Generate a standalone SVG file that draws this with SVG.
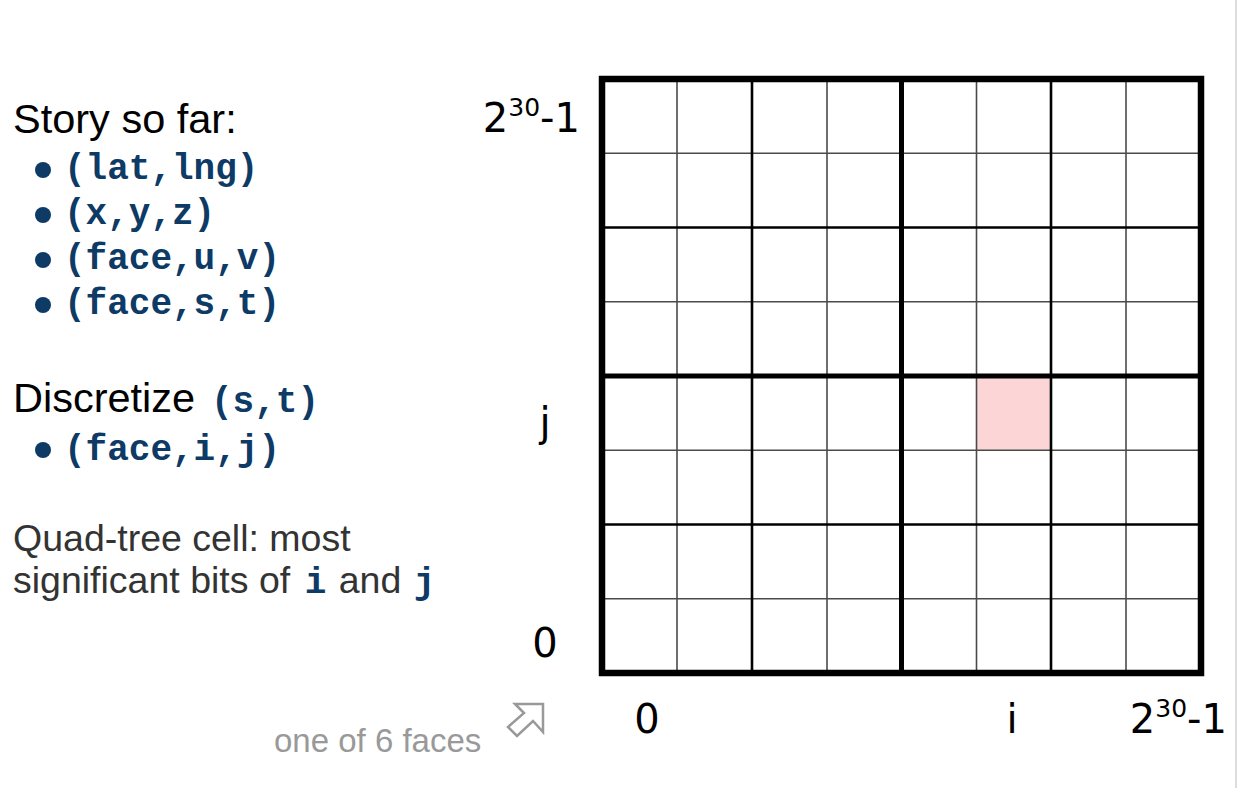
<svg xmlns="http://www.w3.org/2000/svg" width="1238" height="788" viewBox="0 0 1238 788">
<style>
.h{font-family:"Liberation Sans",Arial,sans-serif;fill:#000;}
.q{font-family:"Liberation Sans",Arial,sans-serif;fill:#333;font-size:37.5px;}
.m{font-family:"Liberation Mono","Courier New",monospace;font-weight:bold;fill:#0e3a66;font-size:36px;}
.ax{font-family:"DejaVu Sans",Verdana,sans-serif;fill:#000;font-size:40px;}
.sup{font-size:25px;}
.dot{fill:#0e3a66;}
.l3{stroke:#4a4a4a;stroke-width:1.6;}
.l2{stroke:#000;stroke-width:2.6;}
.l1{stroke:#000;stroke-width:5;}
</style>
<rect width="1238" height="788" fill="#fff"/>
<line x1="1236" y1="0" x2="1236" y2="788" stroke="#ddd" stroke-width="2"/>
<g id="story">
<text class="h" x="13" y="133" font-size="41.5">Story so far:</text>
<circle class="dot" cx="43" cy="170" r="8"/>
<text class="m" x="64" y="179">(lat,lng)</text>
<circle class="dot" cx="43" cy="215" r="8"/>
<text class="m" x="64" y="224">(x,y,z)</text>
<circle class="dot" cx="43" cy="260" r="8"/>
<text class="m" x="64" y="269">(face,u,v)</text>
<circle class="dot" cx="43" cy="305" r="8"/>
<text class="m" x="64" y="314">(face,s,t)</text>
</g>
<g id="discretize">
<text class="h" x="13" y="412" font-size="41.5">Discretize</text>
<text class="m" x="211" y="412">(s,t)</text>
<circle class="dot" cx="43" cy="450" r="8"/>
<text class="m" x="64" y="460">(face,i,j)</text>
</g>
<g id="quadtree">
<text class="q" x="13" y="551">Quad-tree cell: most</text>
<text class="q" x="13" y="593">significant bits of <tspan class="m" dx="4">i</tspan> <tspan dx="2">and</tspan> <tspan class="m" dx="2">j</tspan></text>
</g>
<g id="caption">
<text x="274" y="752" font-family="Liberation Sans,Arial,sans-serif" font-size="33" fill="#999">one of 6 faces</text>
<path d="M543 704 L515 704 L524 713 L508 727 L517 736 L533 721 L543 732 Z" fill="none" stroke="#999" stroke-width="2.5" stroke-linejoin="miter"/>
</g>
<g id="grid">
<rect x="977" y="376" width="74" height="74" fill="#fcd5d6"/>
<g class="l3">
<line x1="677" y1="79" x2="677" y2="673"/>
<line x1="827" y1="79" x2="827" y2="673"/>
<line x1="976.5" y1="79" x2="976.5" y2="673"/>
<line x1="1126" y1="79" x2="1126" y2="673"/>
<line x1="602" y1="153.3" x2="1201" y2="153.3"/>
<line x1="602" y1="301.8" x2="1201" y2="301.8"/>
<line x1="602" y1="450.3" x2="1201" y2="450.3"/>
<line x1="602" y1="598.8" x2="1201" y2="598.8"/>
</g>
<g class="l2">
<line x1="752" y1="79" x2="752" y2="673"/>
<line x1="1051" y1="79" x2="1051" y2="673"/>
<line x1="602" y1="227.5" x2="1201" y2="227.5"/>
<line x1="602" y1="524.5" x2="1201" y2="524.5"/>
</g>
<g class="l1">
<line x1="901.5" y1="79" x2="901.5" y2="673"/>
<line x1="602" y1="376" x2="1201" y2="376"/>
</g>
<rect x="602" y="79" width="599" height="594" fill="none" stroke="#000" stroke-width="6.5"/>
</g>
<g id="axis-labels">
<text class="ax" x="580" y="132" text-anchor="end">2<tspan class="sup" dy="-16">30</tspan><tspan dy="16">-1</tspan></text>
<text class="ax" x="545" y="436" text-anchor="middle">j</text>
<text class="ax" x="545" y="657" text-anchor="middle">0</text>
<text class="ax" x="647" y="733" text-anchor="middle">0</text>
<text class="ax" x="1012" y="733" text-anchor="middle">i</text>
<text class="ax" x="1227" y="733" text-anchor="end">2<tspan class="sup" dy="-16">30</tspan><tspan dy="16">-1</tspan></text>
</g>
<g id="connectors"></g>
</svg>
